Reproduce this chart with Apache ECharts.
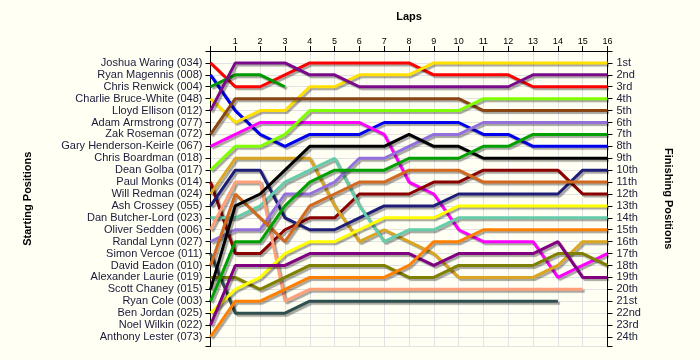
<!DOCTYPE html>
<html>
<head>
<meta charset="utf-8">
<style>
  html, body { margin: 0; padding: 0; background: #FFFFF4; }
  #chart { width: 700px; height: 360px; }
</style>
<script src="https://cdn.jsdelivr.net/npm/echarts@6/dist/echarts.min.js"></script>
</head>
<body>
<div id="chart"></div>
<script>
// ---- Data ----
const laps = [0,1,2,3,4,5,6,7,8,9,10,11,12,13,14,15,16];
const startNames = [
  'Joshua Waring (034)','Ryan Magennis (008)','Chris Renwick (004)','Charlie Bruce-White (048)',
  'Lloyd Ellison (012)','Adam Armstrong (077)','Zak Roseman (072)','Gary Henderson-Keirle (067)',
  'Chris Boardman (018)','Dean Golba (017)','Paul Monks (014)','Will Redman (024)',
  'Ash Crossey (055)','Dan Butcher-Lord (023)','Oliver Sedden (006)','Randal Lynn (027)',
  'Simon Vercoe (011)','David Eadon (010)','Alexander Laurie (019)','Scott Chaney (015)',
  'Ryan Cole (003)','Ben Jordan (025)','Noel Wilkin (022)','Anthony Lester (073)'
];
const finishLabels = ['1st','2nd','3rd','4th','5th','6th','7th','8th','9th','10th','11th','12th',
  '13th','14th','15th','16th','17th','18th','19th','20th','21st','22nd','23rd','24th'];

// positions per lap (lap 0 .. lap 16), null = not running
const posRed      = [1,3,3,2,1,1,1,1,1,2,2,2,2,3,3,3,3];
const posBlue     = [2,5,7,8,7,7,7,6,6,6,6,7,7,8,8,8,8];
const posGreen    = [3,2,2,3,null,null,null,null,null,null,null,null,null,null,null,null,null];
const posYellow   = [4,6,5,5,3,3,2,2,2,1,1,1,1,1,1,1,1];
const posPurple   = [5,1,1,1,2,2,3,3,3,3,3,3,3,2,2,2,2];
const posBrown    = [7,4,4,4,4,4,4,4,4,4,4,5,5,5,5,5,5];
const posMagenta  = [8,7,6,6,6,6,6,7,11,12,15,16,16,16,19,18,17];
const posLime     = [10,8,8,7,5,5,5,5,5,5,5,4,4,4,4,4,4];
const posDarkRed  = [11,17,17,15,14,14,12,12,12,11,11,10,10,10,10,12,12];
const posGold     = [12,9,9,9,9,13,16,15,16,17,19,19,19,19,18,16,16];
const posNavy     = [13,10,10,14,15,15,14,13,13,13,12,12,12,12,12,10,10];
const posTeal     = [14,14,13,11,10,9,13,16,15,15,14,14,14,14,14,14,14];
const posSalmon   = [15,11,11,21,20,20,20,20,20,20,20,20,20,20,20,20,null];
const posLavender = [16,15,15,12,12,11,9,9,8,7,7,6,6,6,6,6,6];
const posSlate    = [17,22,22,22,21,21,21,21,21,21,21,21,21,21,21,null,null];
const posSienna   = [18,12,14,16,13,12,11,11,10,10,10,11,11,11,11,11,11];
const posOlive    = [19,19,20,19,18,18,18,18,19,19,18,18,18,18,17,17,18];
const posBlack    = [20,13,12,10,8,8,8,8,7,8,8,9,9,9,9,9,9];
const posGreen2   = [21,16,16,13,11,10,10,10,9,9,9,8,8,7,7,7,7];
const posYellow2  = [22,20,19,17,16,16,15,14,14,14,13,13,13,13,13,13,13];
const posPurple2  = [23,18,18,18,17,17,17,17,17,18,17,17,17,17,16,19,19];
const posOrange   = [24,21,21,20,19,19,19,19,18,16,16,15,15,15,15,15,15];

const seriesList = [
  posRed, posBlue, posGreen, posYellow, posPurple, posBrown, posMagenta, posLime,
  posDarkRed, posGold, posNavy, posTeal, posSalmon, posLavender, posSlate, posSienna,
  posOlive, posBlack, posGreen2, posYellow2, posPurple2, posOrange
];
const seriesColors = [
  '#FF0000','#0000EE','#009A00','#FFE000','#7A0A8A','#8B4513','#FF00FF','#80FF00',
  '#8B0000','#DAA520','#1E1E78','#66CDAA','#FFA07A','#9370DB','#2F4F4F','#D2691E',
  '#808000','#000000','#00A000','#FFFF00','#800080','#FF8000'
];

const chart = echarts.init(document.getElementById('chart'), null, { renderer: 'canvas' });

const series = seriesList.map((arr, i) => ({
  type: 'line',
  name: startNames[arr[0] - 1],
  data: laps.map((lap, k) => [lap, arr[k] == null ? null : arr[k]]),
  showSymbol: false,
  symbol: 'none',
  connectNulls: false,
  animation: false,
  lineStyle: {
    width: 3,
    color: seriesColors[i],
    shadowColor: 'rgba(0,0,0,0.35)',
    shadowBlur: 1,
    shadowOffsetX: 2,
    shadowOffsetY: 2
  },
  emphasis: { disabled: true }
}));

const labelFont = { fontFamily: 'Liberation Sans, Arial, sans-serif', fontSize: 11, color: '#1a1a3a' };

chart.setOption({
  backgroundColor: '#FFFFF4',
  animation: false,
  grid: { left: 210.5, right: 92.5, top: 51, bottom: 13.5, containLabel: false },
  xAxis: {
    type: 'value',
    position: 'top',
    min: 0, max: 16, interval: 1,
    name: 'Laps',
    nameLocation: 'middle',
    nameGap: 29,
    nameTextStyle: { fontFamily: 'Liberation Sans, Arial, sans-serif', fontSize: 11, fontWeight: 'bold', color: '#000' },
    axisLine: { show: true, lineStyle: { color: '#000', width: 1 } },
    axisTick: { show: true, length: 5, lineStyle: { color: '#000' } },
    axisLabel: {
      margin: 5,
      fontFamily: 'Liberation Sans, Arial, sans-serif', fontSize: 9, color: '#000',
      formatter: v => (v >= 1 && v <= 16 && Number.isInteger(v)) ? String(laps[v]) : ''
    },
    splitLine: { show: true, lineStyle: { color: '#E2E2E2', width: 1 } }
  },
  yAxis: [
    {
      type: 'value',
      position: 'left',
      inverse: true,
      min: 0, max: 24.8, interval: 1,
      name: 'Starting Positions',
      nameLocation: 'middle',
      nameRotate: 90,
      nameGap: 177,
      nameTextStyle: { fontFamily: 'Liberation Sans, Arial, sans-serif', fontSize: 11, fontWeight: 'bold', color: '#000' },
      axisLine: { show: true, lineStyle: { color: '#000', width: 1 } },
      axisTick: { show: true, length: 5, lineStyle: { color: '#000' } },
      axisLabel: Object.assign({}, labelFont, {
        margin: 8,
        formatter: v => (Number.isInteger(v) && v >= 1 && v <= 24) ? startNames[v - 1] : ''
      }),
      splitLine: { show: true, lineStyle: { color: '#E2E2E2', width: 1 } }
    },
    {
      type: 'value',
      position: 'right',
      inverse: true,
      min: 0, max: 24.8, interval: 1,
      name: 'Finishing Positions',
      nameLocation: 'middle',
      nameRotate: -90,
      nameGap: 55,
      nameTextStyle: { fontFamily: 'Liberation Sans, Arial, sans-serif', fontSize: 11, fontWeight: 'bold', color: '#000' },
      axisLine: { show: true, lineStyle: { color: '#000', width: 1 } },
      axisTick: { show: true, length: 5, lineStyle: { color: '#000' } },
      axisLabel: Object.assign({}, labelFont, {
        margin: 9,
        formatter: v => (Number.isInteger(v) && v >= 1 && v <= 24) ? finishLabels[v - 1] : ''
      }),
      splitLine: { show: false }
    }
  ],
  series: series
});
</script>
</body>
</html>
